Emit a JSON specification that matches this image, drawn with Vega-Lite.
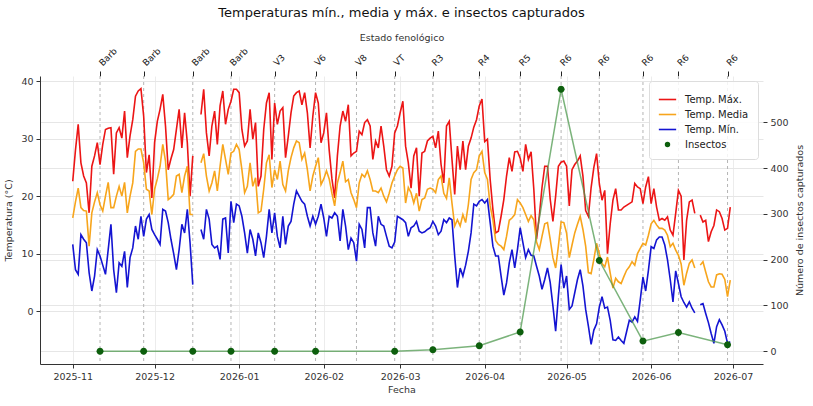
{
  "$schema": "https://vega.github.io/schema/vega-lite/v6.json",
  "width": 723,
  "height": 288,
  "autosize": {"type": "none"},
  "padding": {"left": 40, "top": 76, "right": 50, "bottom": 42},
  "config": {
    "font": "DejaVu Sans",
    "view": {"stroke": null},
    "axis": {
      "labelFont": "DejaVu Sans", "labelFontSize": 9.5, "labelColor": "#333",
      "titleFont": "DejaVu Sans", "titleFontSize": 9.5, "titleFontWeight": "normal", "titleColor": "#333",
      "tickColor": "#333", "domainColor": "#333", "gridColor": "#e6e6e6", "tickSize": 4, "labelFlush": false
    },
    "line": {"strokeWidth": 1.6}
  },
  "title": {
    "text": "Temperaturas mín., media y máx. e insectos capturados",
    "font": "DejaVu Sans", "fontSize": 13, "fontWeight": "normal", "color": "#111",
    "anchor": "middle", "offset": 12
  },
  "datasets": {
    "temps": [
      {"fecha": "2025-11-01", "tmax": 22.6, "tmed": 16.2, "tmin": 11.6},
      {"fecha": "2025-11-02", "tmax": 28, "tmed": 19, "tmin": 7.2},
      {"fecha": "2025-11-03", "tmax": 32.5, "tmed": 21.4, "tmin": 6.4},
      {"fecha": "2025-11-04", "tmax": 25.8, "tmed": 18, "tmin": 13.3},
      {"fecha": "2025-11-05", "tmax": 23.5, "tmed": 17.5, "tmin": 12.5},
      {"fecha": "2025-11-06", "tmax": 22.3, "tmed": 17.4, "tmin": 11.9},
      {"fecha": "2025-11-07", "tmax": 17.1, "tmed": 11.3, "tmin": 6.7},
      {"fecha": "2025-11-08", "tmax": 25.2, "tmed": 17.1, "tmin": 3.5},
      {"fecha": "2025-11-09", "tmax": 27, "tmed": 19, "tmin": 6.1},
      {"fecha": "2025-11-10", "tmax": 29.3, "tmed": 20.6, "tmin": 10.7},
      {"fecha": "2025-11-11", "tmax": 25.5, "tmed": 18.5, "tmin": 9.6},
      {"fecha": "2025-11-12", "tmax": 29, "tmed": 17.4, "tmin": 8},
      {"fecha": "2025-11-13", "tmax": 31.6, "tmed": 20, "tmin": 6.4},
      {"fecha": "2025-11-14", "tmax": 31.8, "tmed": 22.4, "tmin": 10.7},
      {"fecha": "2025-11-15", "tmax": 31.9, "tmed": 18, "tmin": 15.1},
      {"fecha": "2025-11-16", "tmax": 23.8, "tmed": 18, "tmin": 7.2},
      {"fecha": "2025-11-17", "tmax": 31, "tmed": 20, "tmin": 3.2},
      {"fecha": "2025-11-18", "tmax": 31.9, "tmed": 21.7, "tmin": 8.4},
      {"fecha": "2025-11-19", "tmax": 30.1, "tmed": 20, "tmin": 7.8},
      {"fecha": "2025-11-20", "tmax": 34.8, "tmed": 22.4, "tmin": 10.4},
      {"fecha": "2025-11-21", "tmax": 26.7, "tmed": 17.1, "tmin": 4.1},
      {"fecha": "2025-11-22", "tmax": 30.5, "tmed": 20, "tmin": 9.3},
      {"fecha": "2025-11-23", "tmax": 33.3, "tmed": 22.3, "tmin": 11},
      {"fecha": "2025-11-24", "tmax": 37.4, "tmed": 27.8, "tmin": 14.8},
      {"fecha": "2025-11-25", "tmax": 38.3, "tmed": 28.2, "tmin": 12.5},
      {"fecha": "2025-11-26", "tmax": 38.7, "tmed": 28.2, "tmin": 16.5},
      {"fecha": "2025-11-27", "tmax": 33.9, "tmed": 25.8, "tmin": 13},
      {"fecha": "2025-11-28", "tmax": 24.1, "tmed": 21.2, "tmin": 16},
      {"fecha": "2025-11-29", "tmax": 27.2, "tmed": 20.9, "tmin": 16.8},
      {"fecha": "2025-11-30", "tmax": 19.7, "tmed": 16.8, "tmin": 14.2},
      {"fecha": "2025-12-01", "tmax": 29.3, "tmed": 21.2, "tmin": 13.3},
      {"fecha": "2025-12-02", "tmax": 33, "tmed": 23, "tmin": 12.5},
      {"fecha": "2025-12-03", "tmax": 35.1, "tmed": 25.2, "tmin": 11.6},
      {"fecha": "2025-12-04", "tmax": 37.7, "tmed": 29, "tmin": 17.7},
      {"fecha": "2025-12-05", "tmax": 32.2, "tmed": 26.1, "tmin": 17.4},
      {"fecha": "2025-12-06", "tmax": 24.6, "tmed": 19.4, "tmin": 15.4},
      {"fecha": "2025-12-07", "tmax": 26.5, "tmed": 19.8, "tmin": 12.5},
      {"fecha": "2025-12-08", "tmax": 28.1, "tmed": 20.3, "tmin": 10},
      {"fecha": "2025-12-09", "tmax": 31.6, "tmed": 23.5, "tmin": 7.2},
      {"fecha": "2025-12-10", "tmax": 35.1, "tmed": 23.8, "tmin": 10.7},
      {"fecha": "2025-12-11", "tmax": 28.4, "tmed": 20.6, "tmin": 15.1},
      {"fecha": "2025-12-12", "tmax": 34.5, "tmed": 23.5, "tmin": 13.6},
      {"fecha": "2025-12-13", "tmax": 29.3, "tmed": 25.2, "tmin": 17.7},
      {"fecha": "2025-12-14", "tmax": 20, "tmed": 16.8, "tmin": 11.9},
      {"fecha": "2025-12-15", "tmax": 27, "tmed": 16.8, "tmin": 4.6},
      {"fecha": "2025-12-16", "tmax": null, "tmed": null, "tmin": null},
      {"fecha": "2025-12-17", "tmax": null, "tmed": null, "tmin": null},
      {"fecha": "2025-12-18", "tmax": 34.2, "tmed": 25.8, "tmin": 14.2},
      {"fecha": "2025-12-19", "tmax": 38.6, "tmed": 27.4, "tmin": 12.5},
      {"fecha": "2025-12-20", "tmax": 31, "tmed": 23.5, "tmin": 17.7},
      {"fecha": "2025-12-21", "tmax": 27, "tmed": 20.9, "tmin": 16},
      {"fecha": "2025-12-22", "tmax": 32.2, "tmed": 22.3, "tmin": 11.6},
      {"fecha": "2025-12-23", "tmax": 34.8, "tmed": 24.4, "tmin": 11},
      {"fecha": "2025-12-24", "tmax": 29, "tmed": 20.9, "tmin": 11.3},
      {"fecha": "2025-12-25", "tmax": 35.7, "tmed": 25.2, "tmin": 9},
      {"fecha": "2025-12-26", "tmax": 38.3, "tmed": 29, "tmin": 16},
      {"fecha": "2025-12-27", "tmax": 32.5, "tmed": 26.4, "tmin": 16.2},
      {"fecha": "2025-12-28", "tmax": 35.1, "tmed": 23.8, "tmin": 10.1},
      {"fecha": "2025-12-29", "tmax": 36.5, "tmed": 27.5, "tmin": 19.1},
      {"fecha": "2025-12-30", "tmax": 38.6, "tmed": 27.8, "tmin": 15.4},
      {"fecha": "2025-12-31", "tmax": 38.6, "tmed": 29, "tmin": 18.6},
      {"fecha": "2026-01-01", "tmax": 38, "tmed": 28.1, "tmin": 18.3},
      {"fecha": "2026-01-02", "tmax": 31.6, "tmed": 24.6, "tmin": 16.5},
      {"fecha": "2026-01-03", "tmax": 28.7, "tmed": 20.6, "tmin": 13.6},
      {"fecha": "2026-01-04", "tmax": 29.6, "tmed": 21.7, "tmin": 10.1},
      {"fecha": "2026-01-05", "tmax": 35.1, "tmed": 25.8, "tmin": 14.2},
      {"fecha": "2026-01-06", "tmax": 29.9, "tmed": 21.7, "tmin": 12.5},
      {"fecha": "2026-01-07", "tmax": 32.8, "tmed": 23.2, "tmin": 9.6},
      {"fecha": "2026-01-08", "tmax": 21.7, "tmed": 17.1, "tmin": 13.6},
      {"fecha": "2026-01-09", "tmax": 23.5, "tmed": 17.4, "tmin": 11.9},
      {"fecha": "2026-01-10", "tmax": 31.6, "tmed": 21.2, "tmin": 9.3},
      {"fecha": "2026-01-11", "tmax": 36.2, "tmed": 25.8, "tmin": 13},
      {"fecha": "2026-01-12", "tmax": 38, "tmed": 27.2, "tmin": 17.7},
      {"fecha": "2026-01-13", "tmax": 26.4, "tmed": 21.5, "tmin": 13.6},
      {"fecha": "2026-01-14", "tmax": 36.2, "tmed": 24.6, "tmin": 17.1},
      {"fecha": "2026-01-15", "tmax": 32.5, "tmed": 22.9, "tmin": 13},
      {"fecha": "2026-01-16", "tmax": 34.8, "tmed": 26.1, "tmin": 11},
      {"fecha": "2026-01-17", "tmax": 35.4, "tmed": 22, "tmin": 16.5},
      {"fecha": "2026-01-18", "tmax": 26.7, "tmed": 20.9, "tmin": 11.6},
      {"fecha": "2026-01-19", "tmax": 30.4, "tmed": 24.4, "tmin": 14.8},
      {"fecha": "2026-01-20", "tmax": 34.5, "tmed": 26.7, "tmin": 15.6},
      {"fecha": "2026-01-21", "tmax": 37.4, "tmed": 28.4, "tmin": 18.6},
      {"fecha": "2026-01-22", "tmax": 38, "tmed": 29.6, "tmin": 20.9},
      {"fecha": "2026-01-23", "tmax": 38.3, "tmed": 29.3, "tmin": 20},
      {"fecha": "2026-01-24", "tmax": 35.9, "tmed": 26.4, "tmin": 19.1},
      {"fecha": "2026-01-25", "tmax": 38, "tmed": 27.5, "tmin": 18.6},
      {"fecha": "2026-01-26", "tmax": 34.5, "tmed": 24.6, "tmin": 16.5},
      {"fecha": "2026-01-27", "tmax": 28.4, "tmed": 20.9, "tmin": 14.8},
      {"fecha": "2026-01-28", "tmax": 33.9, "tmed": 23.5, "tmin": 16.5},
      {"fecha": "2026-01-29", "tmax": 38, "tmed": 25.2, "tmin": 15.1},
      {"fecha": "2026-01-30", "tmax": 36.2, "tmed": 26.7, "tmin": 16.5},
      {"fecha": "2026-01-31", "tmax": 29.3, "tmed": 22, "tmin": 18.6},
      {"fecha": "2026-02-01", "tmax": 31, "tmed": 23, "tmin": 16.2},
      {"fecha": "2026-02-02", "tmax": 34.5, "tmed": 24.4, "tmin": 13},
      {"fecha": "2026-02-03", "tmax": 28, "tmed": 23, "tmin": 16.5},
      {"fecha": "2026-02-04", "tmax": 23, "tmed": 20.5, "tmin": 16.2},
      {"fecha": "2026-02-05", "tmax": 19.7, "tmed": 18.3, "tmin": 17.1},
      {"fecha": "2026-02-06", "tmax": 27, "tmed": 22.3, "tmin": 16.5},
      {"fecha": "2026-02-07", "tmax": 32.2, "tmed": 24.1, "tmin": 12.2},
      {"fecha": "2026-02-08", "tmax": 34.8, "tmed": 26.1, "tmin": 17.7},
      {"fecha": "2026-02-09", "tmax": 33, "tmed": 22.5, "tmin": 14.8},
      {"fecha": "2026-02-10", "tmax": 35.9, "tmed": 22.9, "tmin": 10.7},
      {"fecha": "2026-02-11", "tmax": 27, "tmed": 20.6, "tmin": 12.7},
      {"fecha": "2026-02-12", "tmax": 27.5, "tmed": 19.4, "tmin": 11.9},
      {"fecha": "2026-02-13", "tmax": 27.8, "tmed": 18, "tmin": 8.7},
      {"fecha": "2026-02-14", "tmax": 31.3, "tmed": 22.3, "tmin": 15.1},
      {"fecha": "2026-02-15", "tmax": 30.7, "tmed": 23.8, "tmin": 14.2},
      {"fecha": "2026-02-16", "tmax": 32.8, "tmed": 23.3, "tmin": 11},
      {"fecha": "2026-02-17", "tmax": 33.3, "tmed": 24.4, "tmin": 18},
      {"fecha": "2026-02-18", "tmax": 32.2, "tmed": 22.9, "tmin": 18},
      {"fecha": "2026-02-19", "tmax": 26.4, "tmed": 20.9, "tmin": 13.6},
      {"fecha": "2026-02-20", "tmax": 29.6, "tmed": 20.9, "tmin": 11.3},
      {"fecha": "2026-02-21", "tmax": 28.4, "tmed": 20.6, "tmin": 16.5},
      {"fecha": "2026-02-22", "tmax": 32.2, "tmed": 21.4, "tmin": 15.1},
      {"fecha": "2026-02-23", "tmax": 28.7, "tmed": 20, "tmin": 14.8},
      {"fecha": "2026-02-24", "tmax": 24.6, "tmed": 19, "tmin": 13},
      {"fecha": "2026-02-25", "tmax": 23.5, "tmed": 20.5, "tmin": 11.3},
      {"fecha": "2026-02-26", "tmax": 25.2, "tmed": 22.3, "tmin": 11},
      {"fecha": "2026-02-27", "tmax": 31, "tmed": 23.5, "tmin": 12},
      {"fecha": "2026-02-28", "tmax": 32.2, "tmed": 24.6, "tmin": 16.5},
      {"fecha": "2026-03-01", "tmax": 34.5, "tmed": 25.2, "tmin": 16.2},
      {"fecha": "2026-03-02", "tmax": 36.5, "tmed": 24.9, "tmin": 15.9},
      {"fecha": "2026-03-03", "tmax": 28.7, "tmed": 18.8, "tmin": 15.4},
      {"fecha": "2026-03-04", "tmax": 25.8, "tmed": 21.5, "tmin": 13},
      {"fecha": "2026-03-05", "tmax": 21.4, "tmed": 20.6, "tmin": 14.5},
      {"fecha": "2026-03-06", "tmax": 27, "tmed": 18.8, "tmin": 14.8},
      {"fecha": "2026-03-07", "tmax": 28.4, "tmed": 20.5, "tmin": 15.6},
      {"fecha": "2026-03-08", "tmax": 20, "tmed": 17.4, "tmin": 13.9},
      {"fecha": "2026-03-09", "tmax": 27.5, "tmed": 19.4, "tmin": 13.6},
      {"fecha": "2026-03-10", "tmax": 27.8, "tmed": 19.7, "tmin": 13.8},
      {"fecha": "2026-03-11", "tmax": 29.6, "tmed": 21.2, "tmin": 14.2},
      {"fecha": "2026-03-12", "tmax": 30.1, "tmed": 21.4, "tmin": 14.5},
      {"fecha": "2026-03-13", "tmax": 30.4, "tmed": 21.2, "tmin": 15.6},
      {"fecha": "2026-03-14", "tmax": 28.4, "tmed": 20.6, "tmin": 14.8},
      {"fecha": "2026-03-15", "tmax": 31.3, "tmed": 22.9, "tmin": 13.3},
      {"fecha": "2026-03-16", "tmax": 25.5, "tmed": 23.5, "tmin": 13.9},
      {"fecha": "2026-03-17", "tmax": 22.3, "tmed": 20.5, "tmin": 15.9},
      {"fecha": "2026-03-18", "tmax": 32.2, "tmed": 19.6, "tmin": 15.4},
      {"fecha": "2026-03-19", "tmax": 33, "tmed": 23.2, "tmin": 16.2},
      {"fecha": "2026-03-20", "tmax": 26.4, "tmed": 18.8, "tmin": 15.9},
      {"fecha": "2026-03-21", "tmax": 20.3, "tmed": 14.8, "tmin": 9.6},
      {"fecha": "2026-03-22", "tmax": 28.7, "tmed": 15.9, "tmin": 4.1},
      {"fecha": "2026-03-23", "tmax": 24.6, "tmed": 14.8, "tmin": 7.5},
      {"fecha": "2026-03-24", "tmax": 29.6, "tmed": 16.8, "tmin": 6.1},
      {"fecha": "2026-03-25", "tmax": 24.6, "tmed": 15.4, "tmin": 8},
      {"fecha": "2026-03-26", "tmax": 28.7, "tmed": 18.5, "tmin": 10.4},
      {"fecha": "2026-03-27", "tmax": 30.1, "tmed": 22.9, "tmin": 13.6},
      {"fecha": "2026-03-28", "tmax": 32, "tmed": 24.1, "tmin": 18.6},
      {"fecha": "2026-03-29", "tmax": 33.3, "tmed": 24.6, "tmin": 18.3},
      {"fecha": "2026-03-30", "tmax": 35.7, "tmed": 27, "tmin": 19.1},
      {"fecha": "2026-03-31", "tmax": 36.9, "tmed": 27.8, "tmin": 19.4},
      {"fecha": "2026-04-01", "tmax": 29.5, "tmed": 24.1, "tmin": 18.8},
      {"fecha": "2026-04-02", "tmax": 29.9, "tmed": 22.9, "tmin": 19.4},
      {"fecha": "2026-04-03", "tmax": 22.9, "tmed": 18.3, "tmin": 15.4},
      {"fecha": "2026-04-04", "tmax": 17.7, "tmed": 15.9, "tmin": 11.3},
      {"fecha": "2026-04-05", "tmax": 13.6, "tmed": 12.3, "tmin": 9.6},
      {"fecha": "2026-04-06", "tmax": 13.9, "tmed": 11.6, "tmin": 9.6},
      {"fecha": "2026-04-07", "tmax": 16.5, "tmed": 11.3, "tmin": 6.1},
      {"fecha": "2026-04-08", "tmax": 19.4, "tmed": 10.7, "tmin": 2.8},
      {"fecha": "2026-04-09", "tmax": 23.5, "tmed": 13, "tmin": 4.9},
      {"fecha": "2026-04-10", "tmax": 26.7, "tmed": 15.8, "tmin": 8.4},
      {"fecha": "2026-04-11", "tmax": 24.3, "tmed": 16.2, "tmin": 10.7},
      {"fecha": "2026-04-12", "tmax": 27.7, "tmed": 16.8, "tmin": 7.5},
      {"fecha": "2026-04-13", "tmax": 27.8, "tmed": 19.4, "tmin": 10.7},
      {"fecha": "2026-04-14", "tmax": 26.6, "tmed": 18.8, "tmin": 14.5},
      {"fecha": "2026-04-15", "tmax": 24.3, "tmed": 18, "tmin": 11.9},
      {"fecha": "2026-04-16", "tmax": 29, "tmed": 16.8, "tmin": 9.3},
      {"fecha": "2026-04-17", "tmax": 26.4, "tmed": 15.6, "tmin": 10.7},
      {"fecha": "2026-04-18", "tmax": 27.7, "tmed": 16.6, "tmin": 9.7},
      {"fecha": "2026-04-19", "tmax": 21.2, "tmed": 15.9, "tmin": 9.6},
      {"fecha": "2026-04-20", "tmax": 12.5, "tmed": 12, "tmin": 7.8},
      {"fecha": "2026-04-21", "tmax": 16.5, "tmed": 10.7, "tmin": 6.1},
      {"fecha": "2026-04-22", "tmax": 21.5, "tmed": 13, "tmin": 3.8},
      {"fecha": "2026-04-23", "tmax": 25.2, "tmed": 15.2, "tmin": 5.5},
      {"fecha": "2026-04-24", "tmax": 25.2, "tmed": 15.4, "tmin": 7.5},
      {"fecha": "2026-04-25", "tmax": 19.5, "tmed": 12.5, "tmin": 5},
      {"fecha": "2026-04-26", "tmax": 15.6, "tmed": 9.3, "tmin": 0.9},
      {"fecha": "2026-04-27", "tmax": 20, "tmed": 7.5, "tmin": -3.5},
      {"fecha": "2026-04-28", "tmax": 25.2, "tmed": 11.3, "tmin": 2.6},
      {"fecha": "2026-04-29", "tmax": 25.9, "tmed": 15.5, "tmin": 8.1},
      {"fecha": "2026-04-30", "tmax": 26.1, "tmed": 15.4, "tmin": 4},
      {"fecha": "2026-05-01", "tmax": 25.2, "tmed": 13.6, "tmin": 6.1},
      {"fecha": "2026-05-02", "tmax": 18.3, "tmed": 9.3, "tmin": 0.3},
      {"fecha": "2026-05-03", "tmax": 24.6, "tmed": 11.5, "tmin": 0.9},
      {"fecha": "2026-05-04", "tmax": 25.5, "tmed": 13.6, "tmin": 3.2},
      {"fecha": "2026-05-05", "tmax": 26.1, "tmed": 15.1, "tmin": 5.5},
      {"fecha": "2026-05-06", "tmax": 27, "tmed": 16.5, "tmin": 7.2},
      {"fecha": "2026-05-07", "tmax": 23.5, "tmed": 14.2, "tmin": 4.4},
      {"fecha": "2026-05-08", "tmax": 17.5, "tmed": 11.3, "tmin": 0.3},
      {"fecha": "2026-05-09", "tmax": 16.5, "tmed": 6.7, "tmin": -2.6},
      {"fecha": "2026-05-10", "tmax": 21.5, "tmed": 6.5, "tmin": -5.8},
      {"fecha": "2026-05-11", "tmax": 25, "tmed": 9, "tmin": -3.3},
      {"fecha": "2026-05-12", "tmax": 27.4, "tmed": 11.8, "tmin": -2.2},
      {"fecha": "2026-05-13", "tmax": 22.2, "tmed": 10, "tmin": 0.7},
      {"fecha": "2026-05-14", "tmax": 19.3, "tmed": 8.3, "tmin": 2.5},
      {"fecha": "2026-05-15", "tmax": 21, "tmed": 7.7, "tmin": 0.5},
      {"fecha": "2026-05-16", "tmax": 10, "tmed": 9.4, "tmin": 0.7},
      {"fecha": "2026-05-17", "tmax": 15.2, "tmed": 6.6, "tmin": -1.6},
      {"fecha": "2026-05-18", "tmax": 19.3, "tmed": 4, "tmin": -5},
      {"fecha": "2026-05-19", "tmax": 21.3, "tmed": 5.7, "tmin": -5.1},
      {"fecha": "2026-05-20", "tmax": 17.6, "tmed": 5.1, "tmin": -4.5},
      {"fecha": "2026-05-21", "tmax": 17.6, "tmed": 4.8, "tmin": -5.1},
      {"fecha": "2026-05-22", "tmax": 18.1, "tmed": 6, "tmin": -5.6},
      {"fecha": "2026-05-23", "tmax": 18.4, "tmed": 7.1, "tmin": -3.6},
      {"fecha": "2026-05-24", "tmax": 18.7, "tmed": 7.7, "tmin": -1.6},
      {"fecha": "2026-05-25", "tmax": 19, "tmed": 8.6, "tmin": -1.9},
      {"fecha": "2026-05-26", "tmax": 22.2, "tmed": 8, "tmin": -1},
      {"fecha": "2026-05-27", "tmax": 21.6, "tmed": 10, "tmin": -1.8},
      {"fecha": "2026-05-28", "tmax": 21.3, "tmed": 10.9, "tmin": 1.9},
      {"fecha": "2026-05-29", "tmax": 18.7, "tmed": 11.8, "tmin": 5.9},
      {"fecha": "2026-05-30", "tmax": 21.6, "tmed": 11.5, "tmin": 3.5},
      {"fecha": "2026-05-31", "tmax": 23.4, "tmed": 13.2, "tmin": 7.1},
      {"fecha": "2026-06-01", "tmax": 18.7, "tmed": 15.2, "tmin": 11.2},
      {"fecha": "2026-06-02", "tmax": 21.3, "tmed": 15.8, "tmin": 10.9},
      {"fecha": "2026-06-03", "tmax": 18.1, "tmed": 15, "tmin": 12.4},
      {"fecha": "2026-06-04", "tmax": 15.8, "tmed": 14.4, "tmin": 12.9},
      {"fecha": "2026-06-05", "tmax": 16.1, "tmed": 14.4, "tmin": 12.9},
      {"fecha": "2026-06-06", "tmax": 15.8, "tmed": 14.1, "tmin": 11.5},
      {"fecha": "2026-06-07", "tmax": 16.4, "tmed": 13.2, "tmin": 8.9},
      {"fecha": "2026-06-08", "tmax": 14.1, "tmed": 11.2, "tmin": 5.5},
      {"fecha": "2026-06-09", "tmax": 13.2, "tmed": 11.8, "tmin": 1.6},
      {"fecha": "2026-06-10", "tmax": 17, "tmed": 10.6, "tmin": 7},
      {"fecha": "2026-06-11", "tmax": 21, "tmed": 9.7, "tmin": 4.8},
      {"fecha": "2026-06-12", "tmax": 20, "tmed": 8.2, "tmin": 2.5},
      {"fecha": "2026-06-13", "tmax": 8.9, "tmed": 4.5, "tmin": 1.5},
      {"fecha": "2026-06-14", "tmax": 15.8, "tmed": 6.6, "tmin": 0.7},
      {"fecha": "2026-06-15", "tmax": 19, "tmed": 8.3, "tmin": 1.6},
      {"fecha": "2026-06-16", "tmax": 19.3, "tmed": 8.9, "tmin": 0.5},
      {"fecha": "2026-06-17", "tmax": 17, "tmed": 7.5, "tmin": -0.3},
      {"fecha": "2026-06-18", "tmax": null, "tmed": null, "tmin": null},
      {"fecha": "2026-06-19", "tmax": 16.7, "tmed": 8, "tmin": 1.1},
      {"fecha": "2026-06-20", "tmax": 15.5, "tmed": 8.6, "tmin": 1.3},
      {"fecha": "2026-06-21", "tmax": 15.8, "tmed": 6.8, "tmin": -0.4},
      {"fecha": "2026-06-22", "tmax": 12.1, "tmed": 5.1, "tmin": -2},
      {"fecha": "2026-06-23", "tmax": 13.8, "tmed": 4.2, "tmin": -3.9},
      {"fecha": "2026-06-24", "tmax": 14.9, "tmed": 4.2, "tmin": -5.6},
      {"fecha": "2026-06-25", "tmax": 17.6, "tmed": 6.3, "tmin": -2.7},
      {"fecha": "2026-06-26", "tmax": 17.3, "tmed": 6.5, "tmin": -1.5},
      {"fecha": "2026-06-27", "tmax": 16.1, "tmed": 6.4, "tmin": -2.4},
      {"fecha": "2026-06-28", "tmax": 14.1, "tmed": 5.5, "tmin": -3.5},
      {"fecha": "2026-06-29", "tmax": 14.4, "tmed": 2.5, "tmin": -5.6},
      {"fecha": "2026-06-30", "tmax": 18.1, "tmed": 5.4, "tmin": -5.3}
    ],
    "etapas": [
      {"fecha": "2025-11-11", "estado": "Barb", "insectos": 0},
      {"fecha": "2025-11-27", "estado": "Barb", "insectos": 0},
      {"fecha": "2025-12-15", "estado": "Barb", "insectos": 0},
      {"fecha": "2025-12-29", "estado": "Barb", "insectos": 0},
      {"fecha": "2026-01-14", "estado": "V3", "insectos": 0},
      {"fecha": "2026-01-29", "estado": "V6", "insectos": 0},
      {"fecha": "2026-02-13", "estado": "V8", "insectos": null},
      {"fecha": "2026-02-27", "estado": "VT", "insectos": 0},
      {"fecha": "2026-03-13", "estado": "R3", "insectos": 3},
      {"fecha": "2026-03-30", "estado": "R4", "insectos": 12},
      {"fecha": "2026-04-14", "estado": "R5", "insectos": 42},
      {"fecha": "2026-04-29", "estado": "R6", "insectos": 572},
      {"fecha": "2026-05-13", "estado": "R6", "insectos": 198},
      {"fecha": "2026-05-29", "estado": "R6", "insectos": 22},
      {"fecha": "2026-06-11", "estado": "R6", "insectos": 41},
      {"fecha": "2026-06-29", "estado": "R6", "insectos": 14}
    ]
  },
  "layer": [
    {
      "data": {"name": "etapas"},
      "mark": {"type": "rule", "color": "#b5b5b5", "strokeDash": [3, 3], "strokeWidth": 1},
      "encoding": {
        "x": {
          "field": "fecha", "type": "temporal",
          "scale": {"type": "utc", "domain": [{"year": 2025, "month": 10, "date": 20, "utc": true}, {"year": 2026, "month": 7, "date": 12, "utc": true}]},
          "axis": {
            "orient": "top", "title": "Estado fenológico", "titlePadding": 4,
            "values": [
              {"year": 2025, "month": 11, "date": 11, "utc": true},
              {"year": 2025, "month": 11, "date": 27, "utc": true},
              {"year": 2025, "month": 12, "date": 15, "utc": true},
              {"year": 2025, "month": 12, "date": 29, "utc": true},
              {"year": 2026, "month": 1, "date": 14, "utc": true},
              {"year": 2026, "month": 1, "date": 29, "utc": true},
              {"year": 2026, "month": 2, "date": 13, "utc": true},
              {"year": 2026, "month": 2, "date": 27, "utc": true},
              {"year": 2026, "month": 3, "date": 13, "utc": true},
              {"year": 2026, "month": 3, "date": 30, "utc": true},
              {"year": 2026, "month": 4, "date": 14, "utc": true},
              {"year": 2026, "month": 4, "date": 29, "utc": true},
              {"year": 2026, "month": 5, "date": 13, "utc": true},
              {"year": 2026, "month": 5, "date": 29, "utc": true},
              {"year": 2026, "month": 6, "date": 11, "utc": true},
              {"year": 2026, "month": 6, "date": 29, "utc": true}
            ],
            "labelExpr": "{'2025-11-11':'Barb','2025-11-27':'Barb','2025-12-15':'Barb','2025-12-29':'Barb','2026-01-14':'V3','2026-01-29':'V6','2026-02-13':'V8','2026-02-27':'VT','2026-03-13':'R3','2026-03-30':'R4','2026-04-14':'R5','2026-04-29':'R6','2026-05-13':'R6','2026-05-29':'R6','2026-06-11':'R6','2026-06-29':'R6'}[utcFormat(datum.value, '%Y-%m-%d')]",
            "labelAngle": -45, "labelAlign": "left", "labelBaseline": "middle", "labelOverlap": false,
            "labelFontSize": 9, "labelColor": "#222", "labelPadding": 7,
            "domain": false, "grid": false, "ticks": true, "tickSize": 5, "tickColor": "#222"
          }
        }
      }
    },
    {
      "data": {"name": "temps"},
      "mark": {"type": "line", "color": "#ec1515", "invalid": "break-paths-filter-domains"},
      "encoding": {
        "x": {
          "field": "fecha", "type": "temporal", "title": "Fecha",
          "axis": {"orient": "bottom", "tickCount": {"interval": "month", "step": 1}, "labelExpr": "utcFormat(datum.value, '%Y-%m')", "grid": true, "gridColor": "#ececec", "domain": true, "labelPadding": 3, "titlePadding": 4}
        },
        "y": {
          "field": "tmax", "type": "quantitative", "title": "Temperatura (°C)",
          "scale": {"domain": [-9.2, 40.9], "nice": false, "zero": false},
          "axis": {"orient": "left", "values": [0, 10, 20, 30, 40], "grid": true, "domain": true, "labelPadding": 3, "titlePadding": 7}
        },
        "color": {
          "datum": "Temp. Máx.",
          "scale": {"domain": ["Temp. Máx.", "Temp. Media", "Temp. Mín.", "Insectos"], "range": ["#ec1515", "#f7a51c", "#1414d2", "#0d5f0d"]},
          "legend": {
            "title": null, "orient": "top-right", "offset": 5,
            "fillColor": "rgba(255,255,255,0.85)", "strokeColor": "#dddddd", "cornerRadius": 3, "padding": 9,
            "labelFont": "DejaVu Sans", "labelFontSize": 10, "labelColor": "#222", "labelOffset": 8,
            "symbolSize": 300, "symbolStrokeWidth": 2, "rowPadding": 0
          }
        }
      }
    },
    {
      "data": {"name": "temps"},
      "mark": {"type": "line", "color": "#f7a51c", "invalid": "break-paths-filter-domains"},
      "encoding": {
        "x": {"field": "fecha", "type": "temporal", "axis": null},
        "y": {"field": "tmed", "type": "quantitative", "scale": {"domain": [-9.2, 40.9], "nice": false, "zero": false}, "axis": null},
        "color": {"datum": "Temp. Media"}
      }
    },
    {
      "data": {"name": "temps"},
      "mark": {"type": "line", "color": "#1414d2", "invalid": "break-paths-filter-domains"},
      "encoding": {
        "x": {"field": "fecha", "type": "temporal", "axis": null},
        "y": {"field": "tmin", "type": "quantitative", "scale": {"domain": [-9.2, 40.9], "nice": false, "zero": false}, "axis": null},
        "color": {"datum": "Temp. Mín."}
      }
    },
    {
      "data": {"name": "etapas"},
      "transform": [{"filter": "datum.insectos != null"}],
      "mark": {"type": "line", "color": "#4f9a4f", "opacity": 0.75, "strokeWidth": 1.5},
      "encoding": {
        "x": {"field": "fecha", "type": "temporal", "axis": null},
        "y": {
          "field": "insectos", "type": "quantitative", "title": "Número de insectos capturados",
          "scale": {"domain": [-28, 601], "nice": false, "zero": false},
          "axis": {"orient": "right", "values": [0, 100, 200, 300, 400, 500], "grid": true, "domain": false, "labelPadding": 3, "titlePadding": 6, "titleAngle": 270, "titleBaseline": "top"}
        }
      }
    },
    {
      "data": {"name": "etapas"},
      "transform": [{"filter": "datum.insectos != null"}],
      "mark": {"type": "point", "filled": true, "opacity": 1, "size": 1010},
      "encoding": {
        "x": {"field": "fecha", "type": "temporal", "axis": null},
        "y": {"field": "insectos", "type": "quantitative", "scale": {"domain": [-28, 601], "nice": false, "zero": false}, "axis": null},
        "color": {"datum": "Insectos"},
        "shape": {
          "datum": "Insectos",
          "scale": {"domain": ["Temp. Máx.", "Temp. Media", "Temp. Mín.", "Insectos"], "range": ["stroke", "stroke", "stroke", "M-0.22,0A0.22,0.22,0,1,1,0.22,0A0.22,0.22,0,1,1,-0.22,0Z"]},
          "legend": {"title": null, "orient": "top-right"}
        }
      }
    }
  ],
  "resolve": {"scale": {"y": "independent"}, "axis": {"x": "independent"}}
}
